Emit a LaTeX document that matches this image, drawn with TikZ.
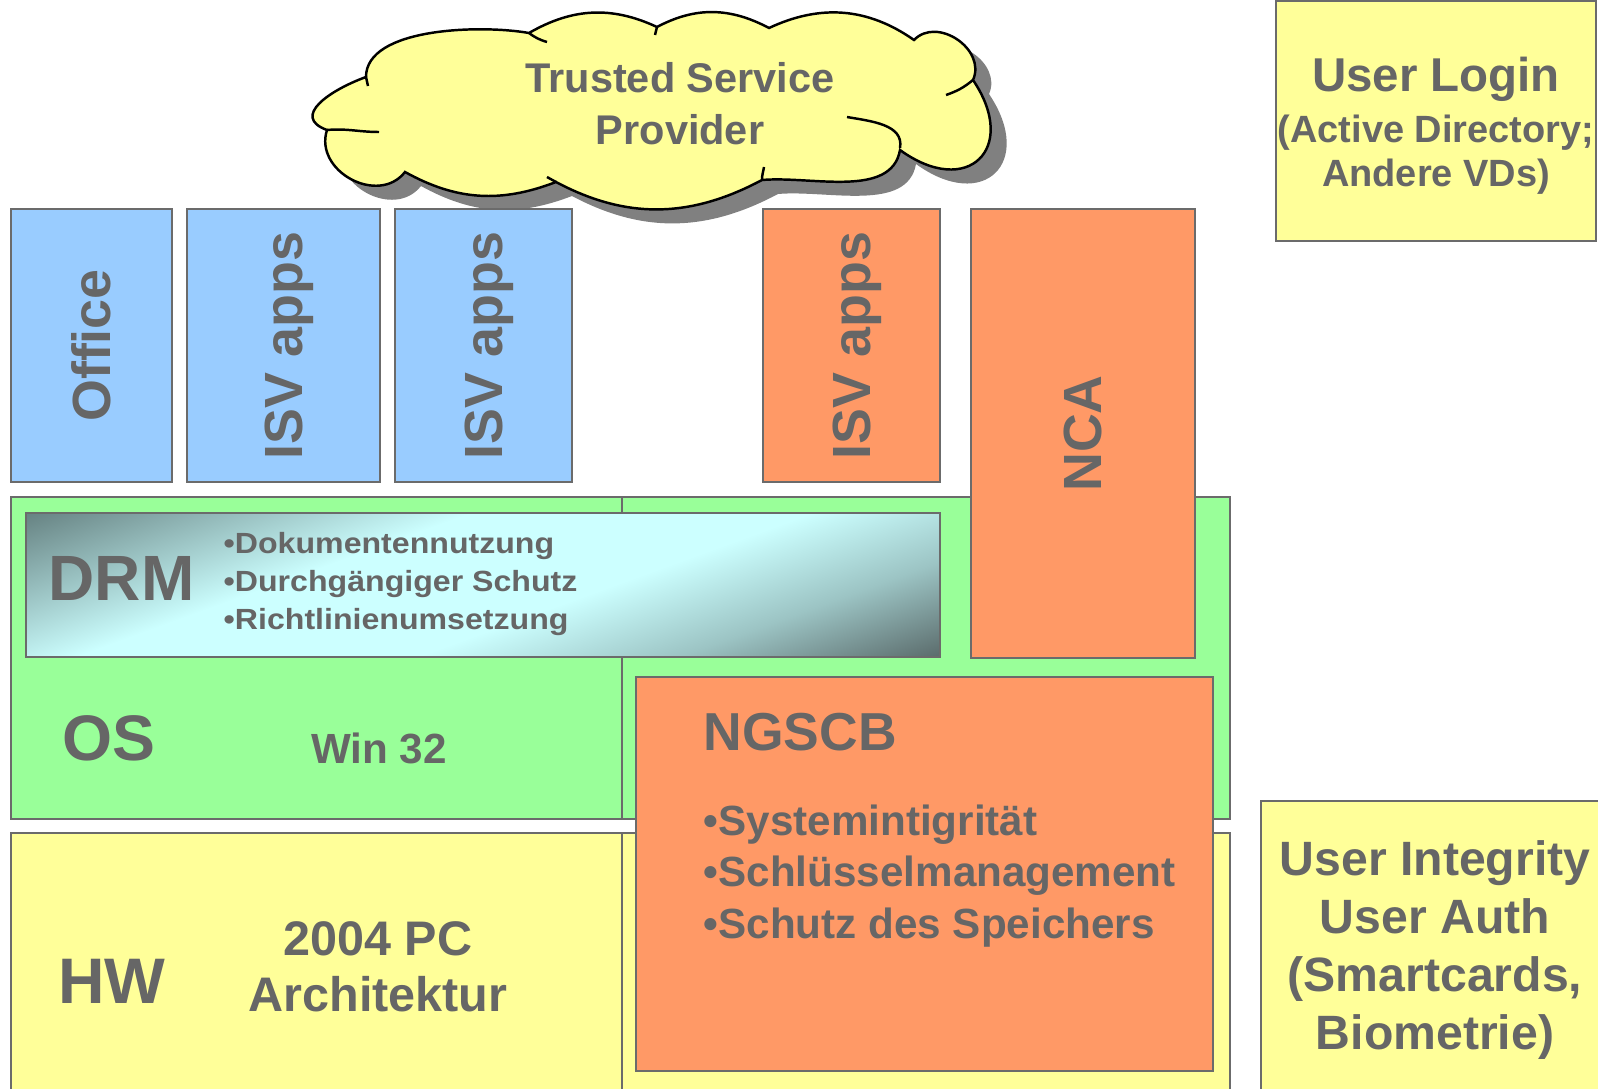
\documentclass[tikz,border=0pt]{standalone}
\usepackage{fontspec}
\setmainfont{Liberation Sans}
\newfontfamily\drmfont[FakeStretch=1.1]{Liberation Sans}
\definecolor{appblue}{HTML}{99CCFF}
\definecolor{osgreen}{HTML}{99FF99}
\definecolor{ngorange}{HTML}{FF9966}
\definecolor{hwyellow}{HTML}{FFFF99}
\definecolor{drmlight}{HTML}{CCFFFF}
\definecolor{drmmid}{HTML}{9CC4C4}
\definecolor{drmdark}{HTML}{5A6B6B}
\definecolor{drmdarktl}{HTML}{668282}
\definecolor{linegray}{HTML}{6B6B6B}
\definecolor{textgray}{HTML}{666666}
\pgfdeclareverticalshading{drmshade}{100bp}{color(0bp)=(drmdark); color(25bp)=(drmdark); color(35bp)=(drmmid); color(45bp)=(drmlight); color(58bp)=(drmlight); color(75bp)=(drmdarktl); color(100bp)=(drmdarktl)}
\begin{document}
\begin{tikzpicture}[x=0.01cm,y=-0.01cm,
    box/.style={draw=linegray, line width=0.6pt},
    txt/.style={text=textgray, inner sep=0pt},
    vlabel/.style={txt, rotate=90, text depth=0pt, font={\fontsize{15.3}{18}\selectfont\bfseries}}]
    \useasboundingbox (0,0) rectangle (1598,1088);
    % Wolke mit Schatten
    \draw[line width=0.7pt, fill=hwyellow, preaction={fill=black!50, transform canvas={shift={(16,14)}}}]
        (366,77) to[out=90,in=170,looseness=0.75] (529,33)
        to[out=30,in=155] (657,27)
        to[out=28,in=152] (769,28)
        to[out=25,in=145] (914,40)
        to[out=46,in=66,looseness=1.2] (973,80)
        to[out=-56,in=-36,looseness=2.1] (900,150)
        to[out=-100,in=5,looseness=0.9] (762,180)
        to[out=-152,in=-28] (556,182)
        to[out=-159,in=-29] (405,172)
        to[out=232,in=-108,looseness=1.25] (327,130)
        to[out=160,in=200,looseness=1.5] (366,77) -- cycle;
    \draw[line width=0.7pt]
        (366,77) to (368,86)
        (529,33) to[bend right=10] (547,42)
        (657,27) to (655,35)
        (973,80) to[bend left=10] (946,95)
        (847,117) to[out=-10,in=80] (900,148)
        (762,180) to[out=90,in=-100] (764,167)
        (556,182) to (547,177)
        (327,130) to[out=5,in=180] (379,132);
    \node[txt, align=center, font={\fontsize{11.8}{14.8}\selectfont\bfseries}] (tsp) at (680,104) {Trusted Service\\Provider};
    % Anwendungen
    \draw[box, fill=appblue]  (11,209)  rectangle node[vlabel] (office) {Office}   (172,482);
    \draw[box, fill=appblue]  (187,209) rectangle node[vlabel] (isva)   {ISV apps} (380,482);
    \draw[box, fill=appblue]  (395,209) rectangle node[vlabel] (isvb)   {ISV apps} (572,482);
    \draw[box, fill=ngorange] (763,209) rectangle node[vlabel] (isvc)   {ISV apps} (940,482);
    % OS-Schicht
    \draw[box, fill=osgreen] (11,497)  rectangle (622,819);
    \draw[box, fill=osgreen] (622,497) rectangle (1230,819);
    \draw[box, fill=ngorange] (971,209) rectangle node[vlabel] (nca) {NCA} (1195,658);
    % DRM (Verlauf schraeg)
    \begin{scope}
        \clip (26,513) rectangle (940,657);
        \shade[shading=drmshade, transform canvas={rotate around={20:(483,585)}}]
            (13,361) rectangle (953,809);
    \end{scope}
    \draw[box] (26,513) rectangle (940,657);
    \node[txt, anchor=base west, font={\fontsize{18.2}{20}\selectfont\bfseries}] (drm) at (48,600) {DRM};
    \node[txt, anchor=west, align=left, font={\fontsize{8.3}{10.7}\drmfont\bfseries}] (drmlist) at (223,584)
          {•Dokumentennutzung\\•Durchgängiger Schutz\\•Richtlinienumsetzung};
    \node[txt, anchor=base, font={\fontsize{18.3}{20}\selectfont\bfseries}] (os) at (109,760) {OS};
    \node[txt, anchor=base, font={\fontsize{12}{14}\selectfont\bfseries}] (win) at (379,763) {Win 32};
    % HW-Schicht
    \draw[box, fill=hwyellow] (11,833)  rectangle (622,1100);
    \draw[box, fill=hwyellow] (622,833) rectangle (1230,1100);
    \node[txt, anchor=base, font={\fontsize{18.3}{20}\selectfont\bfseries}] (hw) at (112,1003) {HW};
    \node[txt, align=center, font={\fontsize{13.8}{15.9}\selectfont\bfseries}] (pc) at (378,967) {2004 PC\\Architektur};
    % NGSCB
    \draw[box, fill=ngorange] (636,677) rectangle (1213,1071);
    \node[txt, anchor=base west, font={\fontsize{15.2}{17}\selectfont\bfseries}] (ngscb) at (703,750) {NGSCB};
    \node[txt, anchor=west, align=left, font={\fontsize{12}{14.6}\selectfont\bfseries}] (nglist) at (703,876)
          {•Systemintigrität\\•Schlüsselmanagement\\•Schutz des Speichers};
    % Benutzer
    \draw[box, fill=hwyellow] (1276,1) rectangle (1596,241);
    \node[txt, align=center, font={\fontsize{10.8}{12.5}\selectfont\bfseries}] (login) at (1436,126)
          {{\fontsize{13.5}{13.5}\selectfont User Login}\\[2pt](Active Directory;\\Andere VDs)};
    \draw[box, fill=hwyellow] (1261,801) rectangle (1610,1100);
    \node[txt, align=center, font={\fontsize{13.7}{16.5}\selectfont\bfseries}] (integ) at (1435,950)
          {User Integrity\\User Auth\\(Smartcards,\\Biometrie)};
\end{tikzpicture}
\end{document}
